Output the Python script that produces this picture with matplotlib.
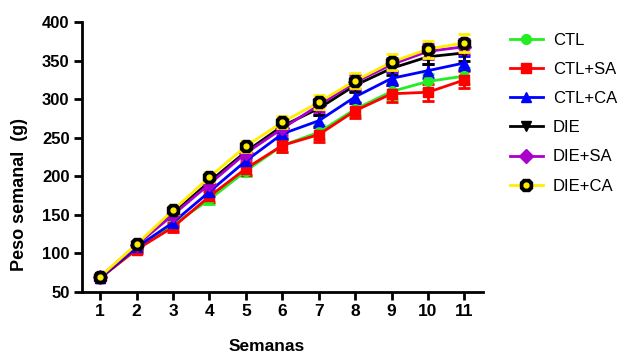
import matplotlib
matplotlib.use("Agg")
import matplotlib.pyplot as plt
from matplotlib.legend_handler import HandlerTuple
from matplotlib.lines import Line2D

plt.rcParams['font.family'] = ['Liberation Sans', 'DejaVu Sans']

weeks = [1, 2, 3, 4, 5, 6, 7, 8, 9, 10, 11]

ctl      = [68, 106, 137, 170, 207, 240, 257, 287, 310, 323, 330]
ctl_sa   = [68, 105, 134, 174, 210, 240, 254, 285, 307, 309, 325]
ctl_ca   = [68, 108, 140, 180, 220, 255, 272, 303, 327, 337, 347]
die      = [69, 111, 152, 193, 232, 265, 288, 318, 340, 355, 360]
die_sa   = [69, 111, 150, 190, 230, 262, 292, 322, 345, 362, 368]
die_ca   = [70, 112, 156, 199, 239, 270, 296, 324, 348, 365, 373]

ctl_err    = [3, 4, 5, 6, 7, 8, 9, 9, 10, 10, 10]
ctl_sa_err = [3, 5, 6, 7, 8, 9, 10, 10, 11, 11, 11]
ctl_ca_err = [3, 4, 5, 6, 7, 7, 8, 8, 8, 9, 9]
die_err    = [3, 4, 5, 6, 7, 8, 8, 9, 9, 10, 10]
die_sa_err = [3, 4, 5, 6, 7, 8, 8, 9, 9, 10, 10]
die_ca_err = [3, 4, 5, 6, 7, 8, 9, 10, 10, 11, 12]

labels = ['CTL', 'CTL+SA', 'CTL+CA', 'DIE', 'DIE+SA', 'DIE+CA']

fig = plt.figure(figsize=(6.26, 3.56), dpi=100)
ax = fig.add_axes([0.131, 0.18, 0.64, 0.758])

styles = [
    (ctl, ctl_err, '#22ee22', 'o'),
    (ctl_sa, ctl_sa_err, '#ff0000', 's'),
    (ctl_ca, ctl_ca_err, '#0000ff', '^'),
    (die, die_err, '#000000', 'v'),
    (die_sa, die_sa_err, '#aa00cc', 'D'),
]

handles = []
for (vals, err, col, mk) in styles:
    ax.errorbar(weeks, vals, yerr=err, color=col, lw=2, marker=mk,
                ms=7, mfc=col, mec=col, elinewidth=2, capsize=4,
                capthick=2)
    handles.append(Line2D([], [], color=col, lw=2, marker=mk, ms=7,
                          mfc=col, mec=col))

# DIE+CA: yellow line with black octagon markers and a yellow centre dot
ax.errorbar(weeks, die_ca, yerr=die_ca_err, color='#ffee00', lw=2,
            elinewidth=2, capsize=4, capthick=2, marker='8', ms=10,
            mfc='black', mec='black', zorder=5)
ax.plot(weeks, die_ca, ls='none', marker='o', ms=3.5, mfc='#ffee00',
        mec='#ffee00', zorder=6)
h_line = Line2D([], [], color='#ffee00', lw=2, marker='8', ms=10,
                mfc='black', mec='black')
h_dot = Line2D([], [], ls='none', marker='o', ms=3.5, mfc='#ffee00',
               mec='#ffee00')
handles.append((h_line, h_dot))

ax.set_xlim(0.5, 11.5)
ax.set_ylim(50, 400)
ax.set_xticks(weeks)
ax.set_yticks([50, 100, 150, 200, 250, 300, 350, 400])
for s in ['top', 'right']:
    ax.spines[s].set_visible(False)
for s in ['left', 'bottom']:
    ax.spines[s].set_linewidth(2)
ax.tick_params(axis='both', width=2, length=6, direction='out', pad=3)
ax.tick_params(axis='y', labelsize=12)
ax.tick_params(axis='x', labelsize=12.5)
for lbl in ax.get_xticklabels() + ax.get_yticklabels():
    lbl.set_fontweight('bold')

ax.set_ylabel('Peso semanal  (g)', fontsize=13, fontweight='bold')
ax.yaxis.set_label_coords(-0.135, 0.36)
ax.set_xlabel('Semanas', fontsize=12.5, fontweight='bold', va='top')
ax.xaxis.set_label_coords(0.46, -0.175)

fig.legend(handles, labels, loc='upper left', bbox_to_anchor=(0.79, 0.95),
           frameon=False, fontsize=12, handlelength=2.0,
           labelspacing=0.85, handletextpad=0.6,
           handler_map={tuple: HandlerTuple(ndivide=1)})

fig.savefig('out.png', dpi=100)
